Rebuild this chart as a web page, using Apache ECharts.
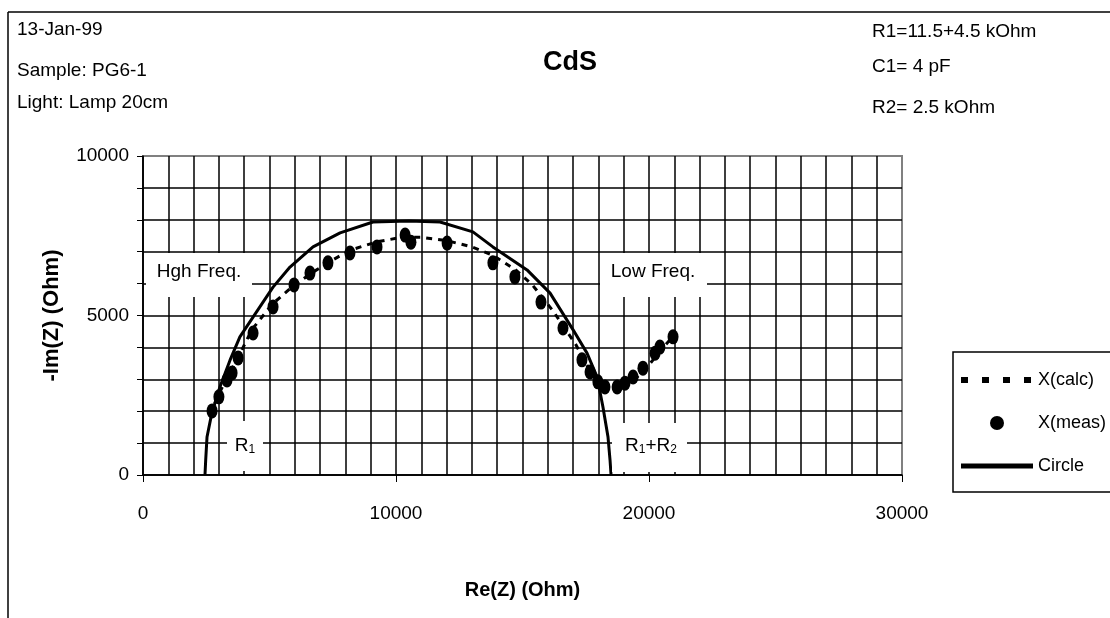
<!DOCTYPE html>
<html><head><meta charset="utf-8">
<script src="https://cdn.jsdelivr.net/npm/echarts@6/dist/echarts.min.js"></script>
<style>html,body{margin:0;padding:0;background:#fff}#c{width:1110px;height:618px}</style>
</head><body><div id="c"></div>
<script>
// ---- data ----
const titleText = 'CdS';
const infoLeft = ['13-Jan-99', 'Sample: PG6-1', 'Light: Lamp 20cm'];
const infoRight = ['R1=11.5+4.5 kOhm', 'C1= 4 pF', 'R2= 2.5 kOhm'];
const seriesNames = ['X(calc)', 'X(meas)', 'Circle'];

const measX = [2730, 3000, 3320, 3520, 3760, 4350, 5140, 5970, 6600, 7310, 8180, 9250, 10360, 10590, 12020, 13830, 14700, 15730, 16600, 17350, 17670, 17980, 18260, 18740, 19050, 19370, 19760, 20240, 20430, 20950];
const measY = [2010, 2450, 2980, 3200, 3670, 4450, 5270, 5960, 6330, 6650, 6960, 7150, 7520, 7300, 7270, 6650, 6210, 5420, 4610, 3610, 3230, 2920, 2760, 2760, 2880, 3070, 3350, 3820, 4010, 4330];

const calcX = [2650, 2950, 3250, 3500, 3800, 4300, 5100, 5900, 6600, 7400, 8200, 9200, 10200, 11000, 12000, 13000, 13800, 14700, 15400, 16200, 17100, 17500, 17850, 18200, 18650, 19100, 19500, 19900, 20400, 20900];
const calcY = [1900, 2450, 2950, 3300, 3750, 4550, 5350, 5900, 6300, 6700, 7050, 7300, 7450, 7450, 7350, 7150, 6900, 6450, 5950, 5150, 4100, 3500, 3050, 2800, 2700, 2800, 3050, 3350, 3850, 4300];

const circleX = [2450, 2480, 2530, 2720, 3040, 3440, 3830, 4350, 5140, 5810, 6720, 7790, 9090, 10500, 11740, 13040, 13830, 15180, 16090, 17000, 17550, 17950, 18180, 18380, 18460, 18500];
const circleY = [0, 500, 1190, 1940, 2760, 3600, 4330, 4950, 5890, 6520, 7150, 7590, 7930, 7960, 7930, 7620, 7150, 6430, 5700, 4550, 3820, 3070, 2130, 1190, 470, 0];

const xName = 'Re(Z) (Ohm)';
const yName = '-Im(Z) (Ohm)';

// ---- chart ----
const FONT = "'Liberation Sans', Arial, sans-serif";
const zip = (a, b) => a.map((v, i) => [v, b[i]]);
const plain = v => String(v);

function txt(text, x, y, size, opts) {
  return Object.assign({
    type: 'text', x: x, y: y, z: 100,
    style: Object.assign({
      text: text, fill: '#000', font: size + 'px ' + FONT,
      align: 'left', verticalAlign: 'middle', textAlign: 'left', textVerticalAlign: 'middle'
    }, (opts && opts.style) || {})
  }, (opts && opts.el) || {});
}
function box(x, y, w, h) {
  return { type: 'rect', z: 90, shape: { x: x, y: y, width: w, height: h }, style: { fill: '#fff' } };
}
const subRich = {
  r: { fontFamily: FONT, fontSize: 19, fill: '#000', color: '#000' },
  s: { fontFamily: FONT, fontSize: 12, fill: '#000', color: '#000', verticalAlign: 'bottom', padding: [8, 0, 0, 0] }
};

const chart = echarts.init(document.getElementById('c'), null, { renderer: 'canvas' });
chart.setOption({
  backgroundColor: '#fff',
  animation: false,
  textStyle: { fontFamily: FONT, color: '#000' },
  title: {
    text: titleText, left: 538, top: 44,
    textStyle: { fontFamily: FONT, fontWeight: 'bold', fontSize: 27, color: '#000' }
  },
  grid: {
    left: 143, right: 208, top: 156, bottom: 143,
    show: true, borderColor: '#808080', borderWidth: 2, backgroundColor: 'transparent'
  },
  legend: {
    orient: 'vertical', left: 958, top: 371, padding: 0,
    itemWidth: 72, itemHeight: 14, itemGap: 25,
    data: [
      { name: seriesNames[0], itemStyle: { opacity: 0 }, lineStyle: { type: [7, 14], width: 6 } },
      { name: seriesNames[1] },
      { name: seriesNames[2], itemStyle: { opacity: 0 }, lineStyle: { width: 5 } }
    ],
    textStyle: { fontFamily: FONT, fontSize: 18, color: '#000' }
  },
  xAxis: {
    type: 'value', min: 0, max: 30000, interval: 10000,
    name: xName, nameLocation: 'middle', nameGap: 105,
    nameTextStyle: { fontFamily: FONT, fontWeight: 'bold', fontSize: 20, color: '#000' },
    axisLine: { show: true, onZero: false, lineStyle: { color: '#000', width: 1.5 } },
    axisTick: { show: true, length: 7, lineStyle: { color: '#000', width: 1 } },
    minorTick: { show: false, splitNumber: 10 },
    axisLabel: { fontFamily: FONT, fontSize: 19, color: '#000', margin: 29, formatter: plain },
    splitLine: { show: true, showMaxLine: false, lineStyle: { color: '#000', width: 1.5 } },
    minorSplitLine: { show: true, lineStyle: { color: '#000', width: 1.5 } }
  },
  yAxis: {
    type: 'value', min: 0, max: 10000, interval: 5000,
    name: yName, nameLocation: 'middle', nameGap: 80,
    nameTextStyle: { fontFamily: FONT, fontWeight: 'bold', fontSize: 22, color: '#000' },
    axisLine: { show: true, onZero: false, lineStyle: { color: '#000', width: 1.5 } },
    axisTick: { show: true, length: 6, lineStyle: { color: '#000', width: 1 } },
    minorTick: { show: true, splitNumber: 5, length: 6, lineStyle: { color: '#000', width: 1 } },
    axisLabel: { fontFamily: FONT, fontSize: 19, color: '#000', margin: 14, formatter: plain },
    splitLine: { show: true, showMaxLine: false, lineStyle: { color: '#000', width: 1.5 } },
    minorSplitLine: { show: true, lineStyle: { color: '#000', width: 1.5 } }
  },
  series: [
    {
      name: seriesNames[0], type: 'line', data: zip(calcX, calcY), symbol: 'none', z: 3,
      lineStyle: { color: '#000', width: 3, type: [6, 6] }, itemStyle: { color: '#000' }
    },
    {
      name: seriesNames[1], type: 'scatter', data: zip(measX, measY), symbol: 'circle',
      symbolSize: [11, 15], z: 4, itemStyle: { color: '#000', opacity: 1 }
    },
    {
      name: seriesNames[2], type: 'line', data: zip(circleX, circleY), symbol: 'none', z: 5,
      lineStyle: { color: '#000', width: 3 }, itemStyle: { color: '#000' }
    }
  ],
  graphic: [
    { type: 'line', z: 100, shape: { x1: 8, y1: 12, x2: 8, y2: 618 }, style: { stroke: '#000', lineWidth: 1.5 } },
    { type: 'line', z: 100, shape: { x1: 8, y1: 12, x2: 1110, y2: 12 }, style: { stroke: '#000', lineWidth: 1.5 } },
    txt(infoLeft[0], 17, 30, 19),
    txt(infoLeft[1], 17, 71, 19),
    txt(infoLeft[2], 17, 103, 19),
    txt(infoRight[0], 872, 32, 19),
    txt(infoRight[1], 872, 67, 19),
    txt(infoRight[2], 872, 108, 19),
    { type: 'rect', z: 100, shape: { x: 953, y: 352, width: 170, height: 140 }, style: { fill: 'none', stroke: '#000', lineWidth: 1.5 } },
    box(146, 253, 106, 44),
    txt('Hgh Freq.', 199, 272, 19, { style: { align: 'center', textAlign: 'center' } }),
    box(600, 253, 107, 44),
    txt('Low Freq.', 653, 272, 19, { style: { align: 'center', textAlign: 'center' } }),
    box(227, 421, 36, 50),
    {
      type: 'text', x: 245, y: 446, z: 100,
      style: { text: '{r|R}{s|1}', align: 'center', verticalAlign: 'middle', textAlign: 'center', textVerticalAlign: 'middle', rich: subRich }
    },
    box(612, 423, 75, 49),
    {
      type: 'text', x: 651, y: 446, z: 100,
      style: { text: '{r|R}{s|1}{r|+R}{s|2}', align: 'center', verticalAlign: 'middle', textAlign: 'center', textVerticalAlign: 'middle', rich: subRich }
    }
  ]
});
</script>
</body></html>
